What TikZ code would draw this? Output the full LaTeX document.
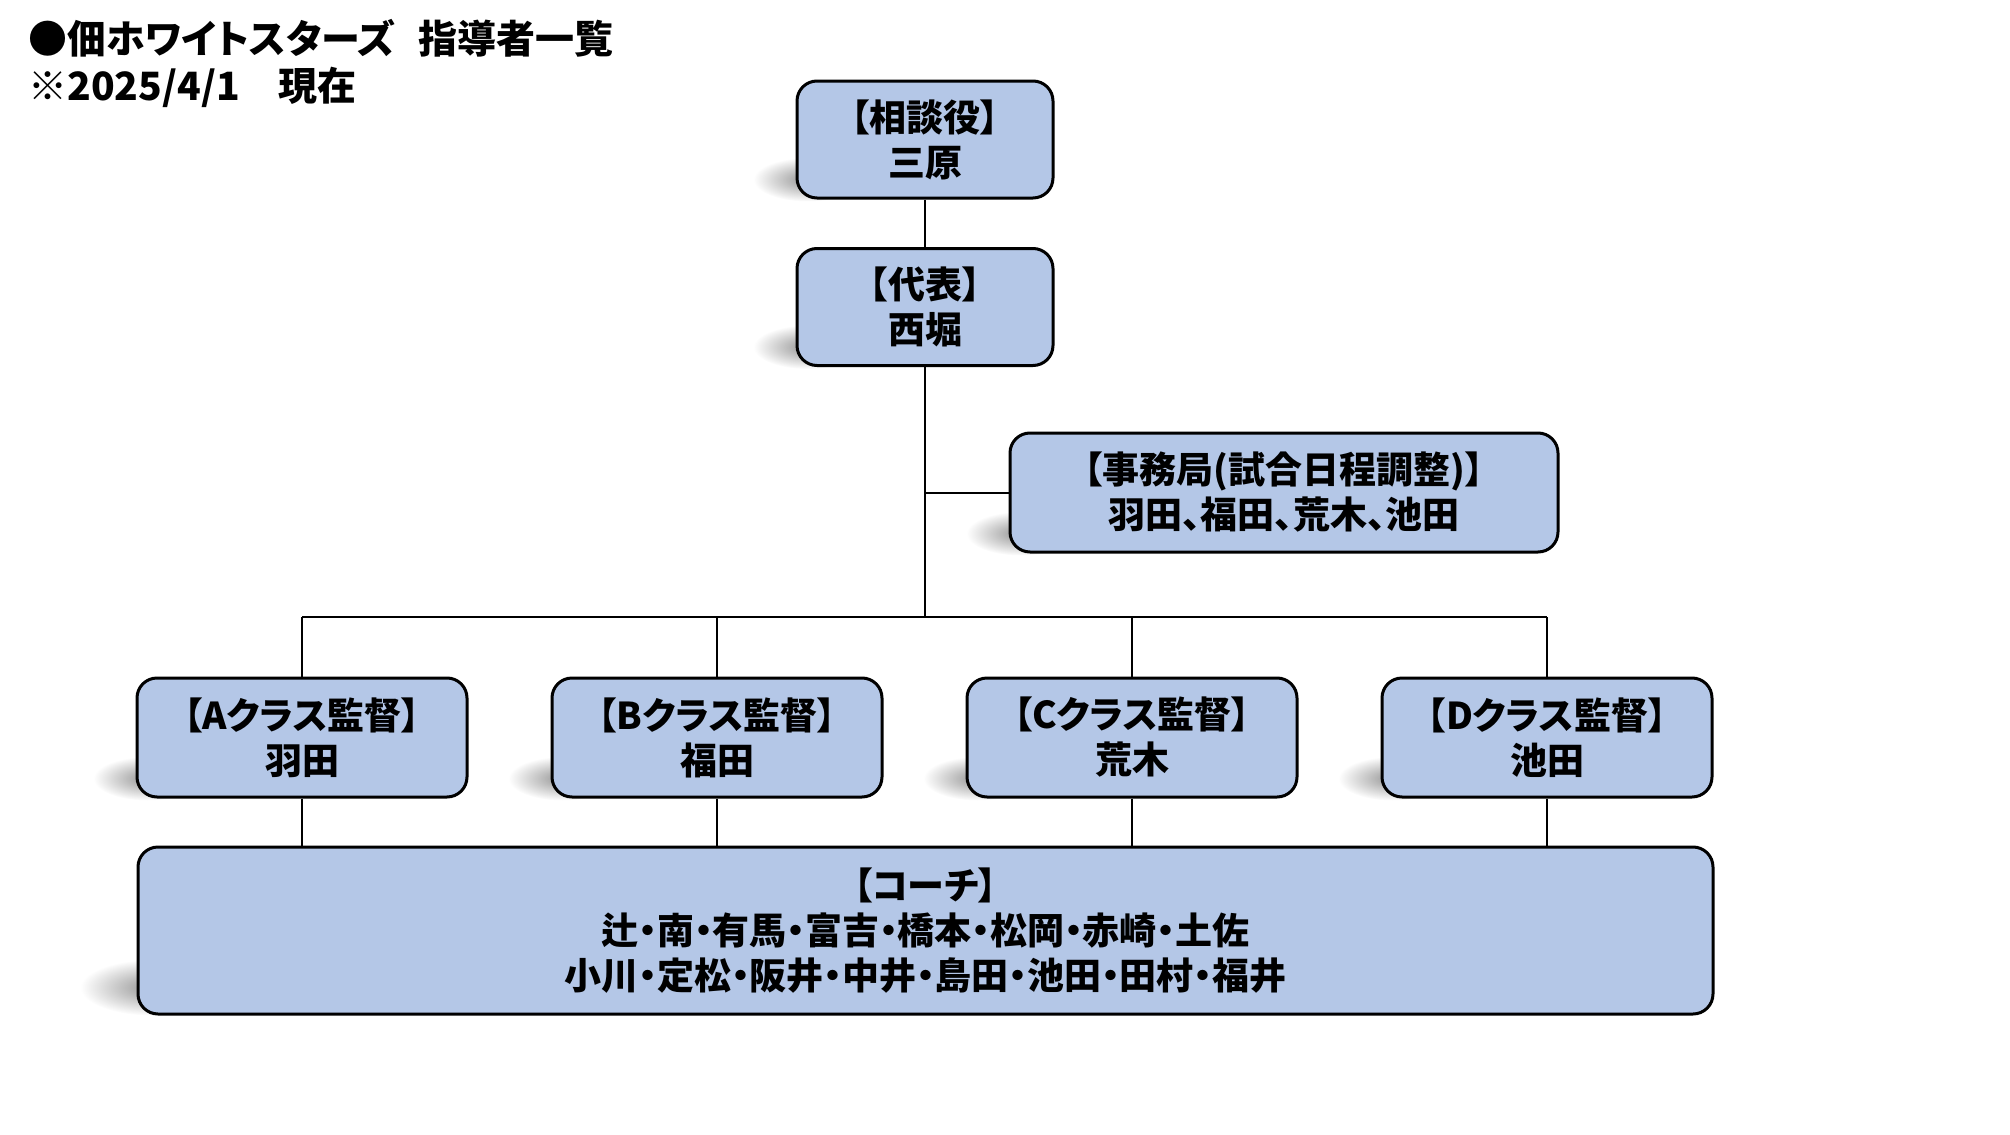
\documentclass[tikz,border=0pt]{standalone}
\usepackage{fontspec}
\setmainfont{Noto Sans CJK JP}[RawFeature=+palt]
\usepackage{tikz}
\usetikzlibrary{fadings,backgrounds}
\definecolor{boxblue}{HTML}{B4C7E7}

\tikzfading[name=shadowfade, inner color=transparent!30, outer color=transparent!100]
\tikzset{
  member/.style={draw=black, line width=1.5pt, fill=boxblue, rounded corners=10pt,
    align=center, inner sep=0pt, font=\fontsize{18.5}{22.5}\selectfont\bfseries},
  heading/.style={anchor=west, inner sep=0pt, font=\fontsize{19.5}{24}\selectfont\bfseries},
  link/.style={black, line width=1pt},
  softshadow/.style={fill=black!60, path fading=shadowfade}
}

\begin{document}
\begin{tikzpicture}[x=0.5pt, y=-0.5pt]
\useasboundingbox (0,0) rectangle (2010,1135);
\node[heading] (title) at (28,38) {●佃ホワイトスターズ\hspace{0.6em}指導者一覧};
\node[heading] (date) at (28,87) {※2025/4/1　現在};

\node[member, minimum width=128pt, minimum height=58.5pt] (sodan) at (925,139.5) {【相談役】\\三原};
\node[member, minimum width=128pt, minimum height=58.5pt] (daihyo) at (925,307) {【代表】\\西堀};
\node[member, minimum width=274pt, minimum height=59.5pt] (jimu) at (1284,492.5) {【事務局(試合日程調整)】\\羽田、福田、荒木、池田};
\foreach \cls/\x/\who in {A/302/羽田, B/717/福田, C/1132/荒木, D/1547/池田}
  \node[member, minimum width=165pt, minimum height=59.5pt] (class\cls) at (\x,737.5) {【\cls クラス監督】\\\who};
\node[member, minimum width=787.5pt, minimum height=83.5pt] (coach) at (925.5,930.5)
  {【コーチ】\\辻・南・有馬・富吉・橋本・松岡・赤崎・土佐\\小川・定松・阪井・中井・島田・池田・田村・福井};

\begin{scope}[on background layer]
\foreach \n in {sodan,daihyo,jimu,classA,classB,classC,classD}
  \fill[softshadow] ([xshift=6pt,yshift=10pt]\n.south west) ellipse [x radius=27pt, y radius=11pt];
\fill[softshadow] ([xshift=8pt,yshift=14pt]coach.south west) ellipse [x radius=36pt, y radius=14pt];
\end{scope}

\coordinate (bus) at (925,617);
\coordinate (branch) at (daihyo.south |- jimu.west);
\draw[link] (sodan) -- (daihyo);
\draw[link] (daihyo) -- (bus);
\draw[link] (branch) -- (jimu);
\draw[link] (classA.north |- bus) -- (classD.north |- bus);
\foreach \cls in {A,B,C,D} {
  \draw[link] (class\cls) -- (class\cls.north |- bus);
  \draw[link] (class\cls) -- (class\cls.south |- coach.north);
}
%\draw[gray] (0,0) grid[step=100] (2010,1135);
\end{tikzpicture}
\end{document}
